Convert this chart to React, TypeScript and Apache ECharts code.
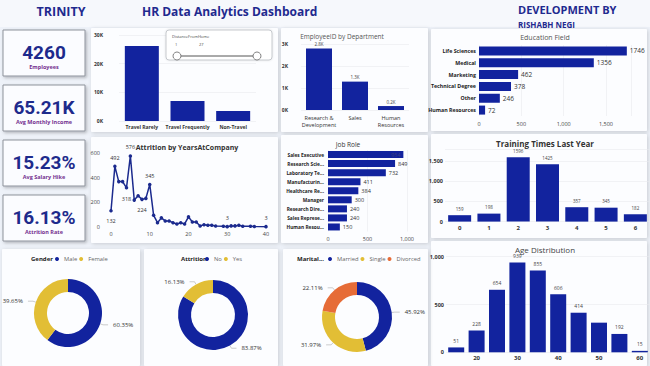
import React, { useEffect, useRef } from "react";
import * as echarts from "echarts";

const travelCats = ["Travel Rarely", "Travel Frequently", "Non-Travel"];
const travelVals = [26200, 7000, 3500];
const deptCats = ["Research &\nDevelopment", "Sales", "Human\nResources"];
const deptVals = [2790, 1290, 180];
const eduCats = ["Life Sciences", "Medical", "Marketing", "Technical Degree", "Other", "Human Resources"];
const eduVals = [1746, 1356, 462, 378, 246, 72];
const yearsAt = [0, 1, 2, 3, 4, 5, 6, 7, 8, 9, 10, 11, 12, 13, 14, 15, 16, 17, 18, 19, 20, 21, 22, 23, 24, 25, 26, 27, 29, 30, 31, 32, 33, 34, 36, 37, 40];
const attritionByYear = [132, 492, 368, 368, 318, 576, 218, 254, 224, 232, 345, 95, 35, 74, 49, 49, 35, 25, 35, 25, 82, 41, 41, 8, 19, 14, 14, 8, 6, 3, 9, 9, 14, 6, 6, 4, 3];
const labelledYears = [0, 1, 4, 5, 8, 10, 30, 40];
const jobCats = ["Sales Executive", "Research Scie...", "Laboratory Te...", "Manufacturin...", "Healthcare Re...", "Manager", "Research Dire...", "Sales Represe...", "Human Resou..."];
const jobVals = [954, 849, 732, 411, 384, 300, 240, 240, 150];
const trainCats = ["0", "1", "2", "3", "4", "5", "6"];
const trainVals = [159, 198, 1596, 1425, 357, 345, 182];
const ageCats = ["15", "20", "25", "30", "35", "40", "45", "50", "55", "60"];
const ageVals = [51, 228, 654, 939, 855, 606, 414, 310, 192, 15];
const genderNames = ["Male", "Female"];
const genderVals = [60.35, 39.65];
const attrNames = ["No", "Yes"];
const attrVals = [83.87, 16.13];
const maritalNames = ["Married", "Single", "Divorced"];
const maritalVals = [45.92, 31.97, 22.11];
const kpiValues = ["4260", "65.21K", "15.23%", "16.13%"];
const kpiLabels = ["Employees", "Avg Monthly Income", "Avg Salary Hike", "Attrition Rate"];

export default function App() {
  const ref = useRef<HTMLDivElement>(null);
  useEffect(() => {
    const chart = echarts.init(ref.current!, null, { renderer: "svg" });
    const blue = "#12239E";
    const yellow = "#E2BE35";
    const orange = "#E66C37";
    const font = "Open Sans";
    const thousands = (v: number) => v.toLocaleString("en-US");
    const kFmt = (v: number) => v / 1000 + "K";
    const lbl = (extra: any = {}) => ({ fontSize: 5.5, color: "#444", fontFamily: font, ...extra });
    const split = { show: true, lineStyle: { color: "#e9ebef", width: 0.6 } };
    const noLine = { show: false };

    const panel = (x: number, y: number, w: number, h: number) => ({
      type: "rect",
      z: 0,
      shape: { x, y, width: w, height: h, r: 1 },
      style: { fill: "#fcfdff", shadowBlur: 4, shadowColor: "rgba(0,0,0,0.16)", shadowOffsetX: 1, shadowOffsetY: 1 },
    });

    const kpiTops = [30, 85, 140, 195];
    const kpiGraphics: any[] = [];
    kpiTops.forEach((t, i) => {
      kpiGraphics.push({
        type: "rect",
        z: 1,
        shape: { x: 3, y: t, width: 82, height: 46 },
        style: { fill: "#fbfcff", stroke: "#8d929b", lineWidth: 1, shadowBlur: 3, shadowColor: "rgba(0,0,0,0.25)", shadowOffsetX: 1.5, shadowOffsetY: 1.5 },
      });
      kpiGraphics.push({
        type: "text",
        z: 2,
        style: { text: kpiValues[i], x: 44, y: t + 22, align: "center", verticalAlign: "middle", fontSize: 19, fontWeight: "bold", fontFamily: "Roboto", fill: "#1d2a8c" },
      });
      kpiGraphics.push({
        type: "text",
        z: 2,
        style: { text: kpiLabels[i], x: 44, y: t + 37, align: "center", verticalAlign: "middle", fontSize: 5.5, fontWeight: "bold", fontFamily: font, fill: "#74308f" },
      });
    });

    const txt = (text: string, x: number, y: number, size: number, opts: any = {}) => ({
      type: "text",
      z: 3,
      style: { text, x, y, fontSize: size, fontFamily: font, verticalAlign: "middle", fill: "#333", ...opts },
    });

    const legendBase = {
      icon: "circle",
      itemWidth: 4,
      itemHeight: 4,
      itemGap: 2,
      padding: 0,
      top: 256,
      textStyle: { fontSize: 5.8, color: "#666", fontFamily: font },
    };
    const pieLabel = { show: true, formatter: "{d}%", fontSize: 6, color: "#333", fontFamily: font, overflow: "none" };
    const pieLine = { length: 3, length2: 5, lineStyle: { color: "#aaa", width: 0.6 } };

    const option: any = {
      animation: false,
      backgroundColor: "#eef2f9",
      textStyle: { fontFamily: font },
      graphic: [
        { type: "rect", z: -1, shape: { x: 0, y: 0, width: 650, height: 27 }, style: { fill: "#f6f8fc" } },
        panel(91, 28, 187, 104),
        panel(281, 28, 147, 104),
        panel(431, 29, 216, 102),
        panel(91, 137, 187, 106),
        panel(281, 135, 147, 108),
        panel(431, 134, 216, 104),
        panel(431, 241, 216, 125),
        panel(2, 249, 138, 117),
        panel(144, 249, 134, 117),
        panel(283, 249, 145, 117),
        ...kpiGraphics,
        txt("TRINITY", 61, 11, 12.5, { align: "center", fontWeight: "bold", fill: "#1f2a8f" }),
        txt("HR Data Analytics Dashboard", 142, 11, 12, { fontWeight: "bold", fill: "#1f2a8f" }),
        txt("DEVELOPMENT BY", 518, 9, 11, { fontWeight: "bold", fill: "#1f2a8f" }),
        txt("RISHABH NEGI", 518, 24, 8, { fontWeight: "bold", fill: "#1f2a8f" }),
        {
          type: "rect",
          z: 4,
          shape: { x: 166, y: 30, width: 106, height: 30, r: 3 },
          style: { fill: "#ffffff", stroke: "#b9bcc2", lineWidth: 0.8, shadowBlur: 2, shadowColor: "rgba(0,0,0,0.12)" },
        },
        { ...txt("DistanceFromHome", 172, 36, 4, { fill: "#444" }), z: 5 },
        { ...txt("1", 175, 44, 4, { fill: "#444" }), z: 5 },
        { ...txt("27", 199, 44, 4, { fill: "#444" }), z: 5 },
        { type: "line", z: 5, shape: { x1: 177, y1: 56, x2: 257, y2: 56 }, style: { stroke: "#555", lineWidth: 1 } },
        { type: "circle", z: 6, shape: { cx: 177, cy: 56, r: 4 }, style: { fill: "#fff", stroke: "#666", lineWidth: 0.8 } },
        { type: "circle", z: 6, shape: { cx: 257, cy: 56, r: 4 }, style: { fill: "#fff", stroke: "#666", lineWidth: 0.8 } },
        txt("Gender", 31, 258.5, 6, { fontWeight: "bold", fill: "#222" }),
        txt("Attrition", 181, 258.5, 6, { fontWeight: "bold", fill: "#222" }),
        txt("Marital...", 297, 258.5, 6, { fontWeight: "bold", fill: "#222" }),
      ],
      title: [
        { text: "EmployeeID by Department", left: 337, top: 28, textAlign: "center", textStyle: { fontSize: 6.5, fontWeight: "normal", color: "#555", fontFamily: font } },
        { text: "Education Field", left: 540, top: 29, textAlign: "center", textStyle: { fontSize: 7, fontWeight: "normal", color: "#555", fontFamily: font } },
        { text: "Attrition by YearsAtCompany", left: 182, top: 139, textAlign: "center", textStyle: { fontSize: 7, fontWeight: "bold", color: "#333", fontFamily: font } },
        { text: "Job Role", left: 343, top: 136, textAlign: "center", textStyle: { fontSize: 6.5, fontWeight: "normal", color: "#333", fontFamily: font } },
        { text: "Training Times Last Year", left: 540, top: 134, textAlign: "center", textStyle: { fontSize: 8, fontWeight: "bold", color: "#333", fontFamily: font } },
        { text: "Age Distribution", left: 540, top: 240, textAlign: "center", textStyle: { fontSize: 8, fontWeight: "normal", color: "#444", fontFamily: font } },
      ],
      legend: [
        { ...legendBase, data: genderNames, left: 55 },
        { ...legendBase, data: attrNames, left: 205 },
        { ...legendBase, data: maritalNames, left: 328 },
      ],
      grid: [
        { left: 119, top: 35, width: 137, height: 86 },
        { left: 301, top: 44, width: 108, height: 66 },
        { left: 479, top: 45, width: 152.4, height: 71 },
        { left: 111, top: 153, width: 155, height: 74 },
        { left: 328, top: 150, width: 79, height: 81.5 },
        { left: 445, top: 149, width: 206, height: 72.6 },
        { left: 446, top: 256.7, width: 204, height: 95.6 },
      ],
      xAxis: [
        { type: "category", gridIndex: 0, data: travelCats, axisLine: noLine, axisTick: noLine, axisLabel: lbl({ fontSize: 5, margin: 3, color: "#333", fontWeight: "bold", interval: 0 }) },
        { type: "category", gridIndex: 1, data: deptCats, axisLine: noLine, axisTick: noLine, axisLabel: lbl({ fontSize: 5.5, margin: 4, lineHeight: 7, color: "#333", interval: 0 }) },
        { type: "value", gridIndex: 2, min: 0, max: 1800, interval: 500, axisLine: noLine, axisTick: noLine, splitLine: split, axisLabel: lbl({ margin: 5, showMaxLabel: false, formatter: thousands }) },
        { type: "value", gridIndex: 3, min: 0, max: 40, interval: 10, axisLine: noLine, axisTick: noLine, splitLine: noLine, axisLabel: lbl({ margin: 4 }) },
        { type: "value", gridIndex: 4, min: 0, max: 1000, interval: 500, axisLine: noLine, axisTick: noLine, splitLine: split, axisLabel: lbl({ margin: 4, formatter: thousands }) },
        { type: "category", gridIndex: 5, data: trainCats, axisLine: noLine, axisTick: noLine, axisLabel: lbl({ fontSize: 6, margin: 3, color: "#333", fontWeight: "bold", interval: 0 }) },
        { type: "category", gridIndex: 6, data: ageCats, axisLine: noLine, axisTick: noLine, axisLabel: lbl({ fontSize: 6, margin: 3, color: "#333", fontWeight: "bold", interval: (i: number) => i % 2 === 1 }) },
      ],
      yAxis: [
        { type: "value", gridIndex: 0, min: 0, max: 30000, interval: 10000, axisLine: noLine, axisTick: noLine, splitLine: split, axisLabel: lbl({ fontSize: 5, margin: 16, color: "#333", fontWeight: "bold", formatter: kFmt }) },
        { type: "value", gridIndex: 1, min: 0, max: 3000, interval: 1000, axisLine: noLine, axisTick: noLine, splitLine: split, axisLabel: lbl({ fontSize: 5, margin: 13, color: "#333", fontWeight: "bold", formatter: kFmt }) },
        { type: "category", gridIndex: 2, data: eduCats, inverse: true, axisLine: noLine, axisTick: noLine, axisLabel: lbl({ fontSize: 5.3, margin: 3, color: "#222", fontWeight: "bold", interval: 0 }) },
        { type: "value", gridIndex: 3, min: 0, max: 600, interval: 200, axisLine: noLine, axisTick: noLine, splitLine: noLine, axisLabel: lbl({ margin: 11 }) },
        { type: "category", gridIndex: 4, data: jobCats, inverse: true, axisLine: noLine, axisTick: noLine, axisLabel: lbl({ fontSize: 4.8, margin: 4, color: "#222", fontWeight: "bold", interval: 0 }) },
        { type: "value", gridIndex: 5, min: 0, max: 1800, interval: 500, axisLine: noLine, axisTick: noLine, splitLine: split, axisLabel: lbl({ fontSize: 5.5, margin: 2, color: "#333", fontWeight: "bold", showMaxLabel: false, formatter: thousands }) },
        { type: "value", gridIndex: 6, min: 0, max: 1000, interval: 500, axisLine: noLine, axisTick: noLine, splitLine: split, axisLabel: lbl({ fontSize: 5.5, margin: 2, color: "#333", fontWeight: "bold", formatter: thousands }) },
      ],
      series: [
        { type: "bar", xAxisIndex: 0, yAxisIndex: 0, data: travelVals, barWidth: 34, itemStyle: { color: blue } },
        {
          type: "bar", xAxisIndex: 1, yAxisIndex: 1, data: deptVals, barWidth: 26, itemStyle: { color: blue },
          label: { show: true, position: "top", distance: 2, fontSize: 4.5, color: "#444", fontFamily: font, formatter: (p: any) => (p.value / 1000).toFixed(1) + "K" },
        },
        {
          type: "bar", xAxisIndex: 2, yAxisIndex: 2, data: eduVals, barWidth: 9, itemStyle: { color: blue },
          label: { show: true, position: "right", distance: 3, fontSize: 6.5, color: "#333", fontFamily: font },
        },
        {
          type: "line", xAxisIndex: 3, yAxisIndex: 3,
          data: yearsAt.map((y, i) => {
            const v = attritionByYear[i];
            const below = y === 0 || y === 4 || y === 8;
            return labelledYears.includes(y)
              ? { value: [y, v], label: { show: true, position: below ? "bottom" : "top", distance: below ? 6 : 4 } }
              : { value: [y, v] };
          }),
          symbol: "circle", symbolSize: 3.5, lineStyle: { color: "#1b2a8e", width: 1.5 }, itemStyle: { color: "#1b2a8e" },
          label: { show: false, fontSize: 5.5, color: "#333", fontFamily: font, formatter: (p: any) => p.value[1] },
        },
        {
          type: "bar", xAxisIndex: 4, yAxisIndex: 4, barWidth: 7, itemStyle: { color: blue },
          data: jobVals.map((v, i) => (i === 0 ? { value: v, label: { position: "insideRight", color: "#3a3f7a" } } : { value: v })),
          label: { show: true, position: "right", distance: 3, fontSize: 5.5, color: "#333", fontFamily: font },
        },
        {
          type: "bar", xAxisIndex: 5, yAxisIndex: 5, data: trainVals, barWidth: 23, itemStyle: { color: blue },
          label: { show: true, position: "top", distance: 4, fontSize: 4.5, color: "#444", fontFamily: font },
        },
        {
          type: "bar", xAxisIndex: 6, yAxisIndex: 6, barWidth: 16, itemStyle: { color: blue },
          data: ageVals.map((v, i) => (i === 7 ? { value: v, label: { show: false } } : { value: v })),
          label: { show: true, position: "top", distance: 4, fontSize: 5, color: "#444", fontFamily: font },
        },
        {
          type: "pie", center: [68, 313], radius: [21, 34], startAngle: 90,
          data: genderNames.map((n, i) => ({ name: n, value: genderVals[i], itemStyle: { color: [blue, yellow][i] } })),
          label: pieLabel, labelLine: pieLine,
        },
        {
          type: "pie", center: [213, 315], radius: [22, 35], startAngle: 90,
          data: attrNames.map((n, i) => ({ name: n, value: attrVals[i], itemStyle: { color: [blue, yellow][i] } })),
          label: pieLabel, labelLine: pieLine,
        },
        {
          type: "pie", center: [357, 317], radius: [22, 35], startAngle: 90,
          data: maritalNames.map((n, i) => ({ name: n, value: maritalVals[i], itemStyle: { color: [blue, yellow, orange][i] } })),
          label: pieLabel, labelLine: pieLine,
        },
      ],
    };
    chart.setOption(option);
    return () => chart.dispose();
  }, []);
  return <div ref={ref} style={{ position: "fixed", left: 0, top: 0, width: 650, height: 366 }} />;
}
